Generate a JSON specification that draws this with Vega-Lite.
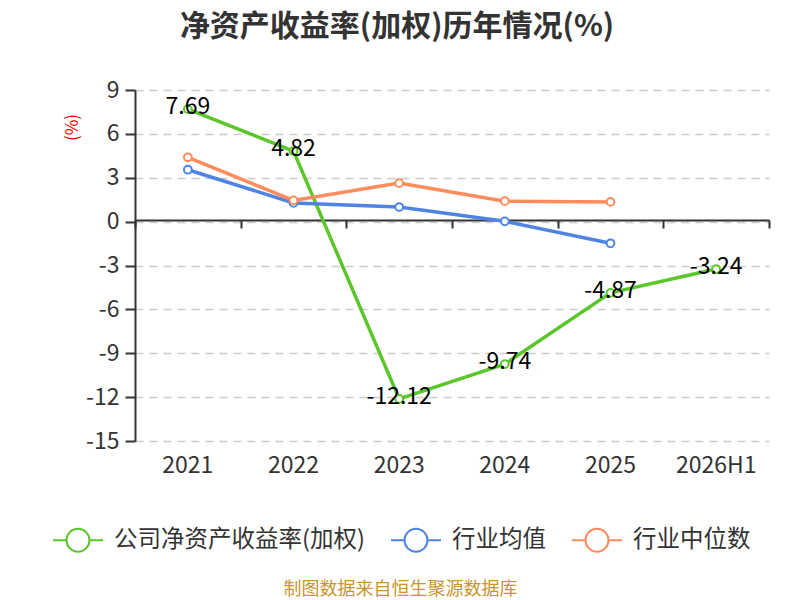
{
  "$schema": "https://vega.github.io/schema/vega-lite/v6.json",
  "autosize": "none",
  "width": 634,
  "height": 351,
  "padding": {"left": 135, "top": 90, "right": 31, "bottom": 159},
  "background": "white",
  "title": {
    "text": "净资产收益率(加权)历年情况(%)",
    "font": "Noto Sans CJK SC",
    "fontSize": 30,
    "fontWeight": "bold",
    "color": "#333333",
    "anchor": "middle",
    "dx": -55,
    "offset": 37
  },
  "data": {
    "values": [
      {"year": "2021", "series": "公司净资产收益率(加权)", "value": 7.69},
      {"year": "2022", "series": "公司净资产收益率(加权)", "value": 4.82},
      {"year": "2023", "series": "公司净资产收益率(加权)", "value": -12.12},
      {"year": "2024", "series": "公司净资产收益率(加权)", "value": -9.74},
      {"year": "2025", "series": "公司净资产收益率(加权)", "value": -4.87},
      {"year": "2026H1", "series": "公司净资产收益率(加权)", "value": -3.24},
      {"year": "2021", "series": "行业均值", "value": 3.55},
      {"year": "2022", "series": "行业均值", "value": 1.28},
      {"year": "2023", "series": "行业均值", "value": 1.0},
      {"year": "2024", "series": "行业均值", "value": 0.02},
      {"year": "2025", "series": "行业均值", "value": -1.48},
      {"year": "2021", "series": "行业中位数", "value": 4.4},
      {"year": "2022", "series": "行业中位数", "value": 1.45},
      {"year": "2023", "series": "行业中位数", "value": 2.64},
      {"year": "2024", "series": "行业中位数", "value": 1.4},
      {"year": "2025", "series": "行业中位数", "value": 1.35}
    ]
  },
  "encoding": {
    "y": {
      "field": "value",
      "type": "quantitative",
      "scale": {"domain": [-15, 9], "nice": false, "zero": false},
      "axis": {
        "values": [-15, -12, -9, -6, -3, 0, 3, 6, 9],
        "title": "(%)",
        "titleColor": "#ff0000",
        "titleFont": "Noto Sans CJK SC",
        "titleFontSize": 17,
        "titleFontWeight": "normal",
        "titleAngle": -90,
        "titleAlign": "center",
        "titleBaseline": "middle",
        "titleX": -63,
        "titleY": 37,
        "labelFont": "Noto Sans CJK SC",
        "labelFontSize": 23,
        "labelColor": "#333333",
        "labelPadding": 6,
        "domainColor": "#333333",
        "domainWidth": 2,
        "tickColor": "#333333",
        "tickWidth": 2,
        "tickSize": 10,
        "grid": true,
        "gridColor": "#cccccc",
        "gridWidth": 1.5,
        "gridDash": [8, 6]
      }
    }
  },
  "layer": [
    {
      "mark": {
        "type": "line",
        "strokeWidth": 3.5,
        "point": {"filled": false, "fill": "white", "size": 60, "strokeWidth": 2}
      },
      "encoding": {
        "x": {
          "field": "year",
          "type": "ordinal",
          "bandPosition": 0.5,
          "scale": {"type": "band", "paddingInner": 0, "paddingOuter": 0},
          "axis": {
            "orient": "bottom",
            "domain": false,
            "ticks": false,
            "grid": false,
            "labelAngle": 0,
            "labelFont": "Noto Sans CJK SC",
            "labelFontSize": 23,
            "labelColor": "#333333",
            "labelPadding": 13,
            "title": "制图数据来自恒生聚源数据库",
            "titleFont": "Noto Sans CJK SC",
            "titleFontSize": 18,
            "titleFontWeight": "normal",
            "titleColor": "#c8952e",
            "titleX": 265,
            "titleY": 148,
            "titleAlign": "center",
            "titleBaseline": "middle"
          }
        },
        "color": {
          "field": "series",
          "type": "nominal",
          "scale": {
            "domain": ["公司净资产收益率(加权)", "行业均值", "行业中位数"],
            "range": ["#5bc62a", "#4f84e4", "#fe8b5b"]
          },
          "legend": {
            "orient": "none",
            "direction": "horizontal",
            "legendX": -83,
            "legendY": 424,
            "title": null,
            "labelFont": "Noto Sans CJK SC",
            "labelFontSize": 23.5,
            "labelColor": "#333333",
            "labelLimit": 0,
            "labelOffset": 10,
            "columnPadding": 22,
            "symbolType": "M-1,0L-0.46,0M0.46,0L1,0M0.46,0A0.46,0.46,0,1,1,-0.46,0A0.46,0.46,0,1,1,0.46,0",
            "symbolSize": 2500,
            "symbolStrokeWidth": 2,
            "symbolFillColor": "white"
          }
        }
      }
    },
    {
      "transform": [{"filter": "datum.series === '公司净资产收益率(加权)'"}],
      "mark": {
        "type": "text",
        "font": "Noto Sans CJK SC",
        "fontSize": 23,
        "color": "#000000",
        "baseline": "middle",
        "dy": -2
      },
      "encoding": {
        "x": {
          "field": "year",
          "type": "ordinal",
          "bandPosition": 0.5,
          "axis": {
            "orient": "bottom",
            "offset": -221,
            "labels": false,
            "title": null,
            "grid": false,
            "domain": true,
            "domainColor": "#333333",
            "domainWidth": 2,
            "ticks": true,
            "tickBand": "extent",
            "tickSize": 8,
            "tickColor": "#333333",
            "tickWidth": 2
          }
        },
        "text": {"field": "value", "type": "quantitative", "format": ".2f"}
      }
    }
  ],
  "resolve": {"axis": {"x": "independent"}},
  "config": {
    "view": {"stroke": null},
    "font": "Noto Sans CJK SC",
    "locale": {
      "number": {
        "decimal": ".",
        "thousands": ",",
        "grouping": [3],
        "currency": ["", ""],
        "minus": "-"
      }
    }
  }
}
